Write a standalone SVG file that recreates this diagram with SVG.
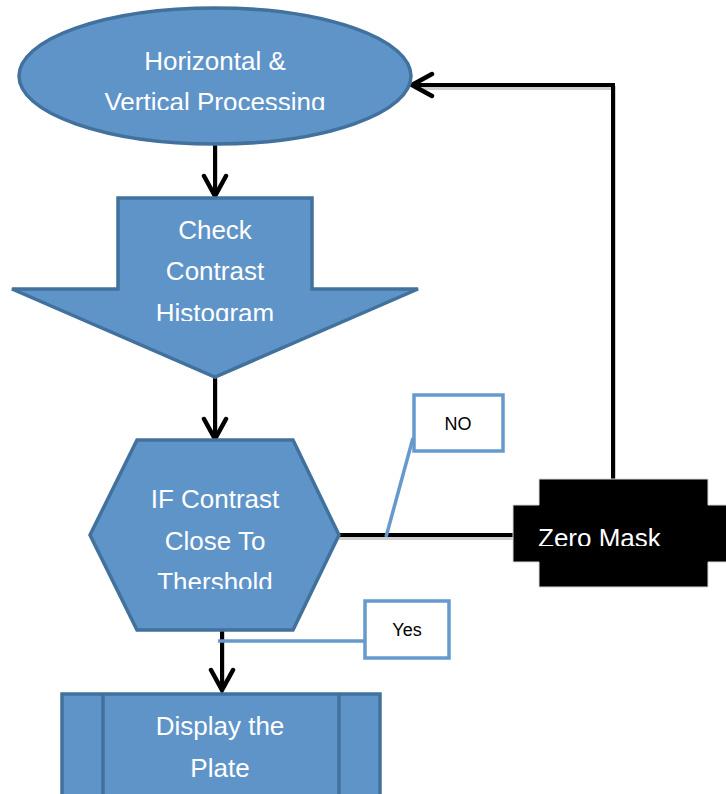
<svg xmlns="http://www.w3.org/2000/svg" width="726" height="794" viewBox="0 0 726 794">
<style>
.shape{fill:#5f94c9;stroke:#41719c;stroke-width:3.5;stroke-linejoin:miter}
.lbl{font-family:"Liberation Sans",Arial,sans-serif;font-size:26px;fill:#ffffff;text-anchor:middle}
.call{font-family:"Liberation Sans",Arial,sans-serif;font-size:18px;fill:#000000;text-anchor:middle}
.conn{fill:none;stroke:#000000;stroke-width:4}
.shadow{fill:none;stroke:#cfcfcf;stroke-width:4}
.lead{fill:none;stroke:#6699cc;stroke-width:3.5}
.cbox{fill:#ffffff;stroke:#6699cc;stroke-width:3.5}
</style>
<defs>
<marker id="ah" viewBox="0 0 26 28" refX="23" refY="14" markerWidth="26" markerHeight="28" markerUnits="userSpaceOnUse" orient="auto">
<path d="M3,3 L23,14 L3,25" fill="none" stroke="#000" stroke-width="4.5" stroke-linecap="round" stroke-linejoin="miter"/>
</marker>
<clipPath id="c1"><rect x="0" y="0" width="726" height="110"/></clipPath>
<clipPath id="c2"><rect x="0" y="190" width="726" height="131"/></clipPath>
<clipPath id="c3"><rect x="0" y="440" width="726" height="149"/></clipPath>
<clipPath id="c4"><rect x="0" y="470" width="726" height="76"/></clipPath>
</defs>
<rect width="726" height="794" fill="#ffffff"/>

<g id="connectors">
<path class="shadow" d="M216,146 L216,194"/>
<path class="conn" d="M215,144 L215,196" marker-end="url(#ah)"/>
<path class="shadow" d="M216,379 L216,437"/>
<path class="conn" d="M215,377 L215,439" marker-end="url(#ah)"/>
<path class="shadow" d="M339,538 L513,538"/>
<path class="conn" d="M339,535 L513,535"/>
<path class="shadow" d="M614,502 L614,88 L415,88"/>
<path class="conn" d="M613,502 L613,85 L412,85" marker-end="url(#ah)"/>
<rect x="611" y="497" width="4" height="5" fill="#555"/>
<path class="shadow" d="M223,623 L223,687"/>
<path class="conn" d="M222,621 L222,690" marker-end="url(#ah)"/>
</g>

<g id="n-processing">
<ellipse class="shape" cx="215" cy="76" rx="196" ry="68"/>
<g clip-path="url(#c1)">
<text class="lbl" x="215" y="70">Horizontal &amp;</text>
<text class="lbl" x="215" y="111">Vertical Processing</text>
</g>
</g>

<g id="n-check">
<polygon class="shape" points="118,198 312,198 312,289 418,289 215,377 12,289 118,289"/>
<g clip-path="url(#c2)">
<text class="lbl" x="215" y="239">Check</text>
<text class="lbl" x="215" y="280">Contrast</text>
<text class="lbl" x="215" y="322">Histogram</text>
</g>
</g>

<g id="n-decision">
<polygon class="shape" points="137,440 293,440 339,535 293,630 137,630 90,535"/>
<g clip-path="url(#c3)">
<text class="lbl" x="215" y="508">IF Contrast</text>
<text class="lbl" x="215" y="550">Close To</text>
<text class="lbl" x="215" y="591">Thershold</text>
</g>
</g>

<g id="n-zeromask">
<polygon points="539,479 708,479 708,505 728,505 728,562 708,562 708,587 539,587 539,562 513,562 513,505 539,505" fill="#000000" stroke="#d8d8d8" stroke-width="1"/>
<g clip-path="url(#c4)">
<text class="lbl" x="538" y="547" style="text-anchor:start">Zero Mask</text>
</g>
</g>

<g id="n-no">
<path class="lead" d="M413,438 L386,537"/>
<rect class="cbox" x="414" y="395" width="89" height="56"/>
<text class="call" x="458" y="430">NO</text>
</g>

<g id="n-yes">
<path class="lead" d="M218,641 L365,641"/>
<rect class="cbox" x="365" y="601" width="84" height="57"/>
<text class="call" x="407" y="636">Yes</text>
</g>

<g id="n-display">
<rect class="shape" x="62" y="694" width="318" height="110"/>
<line x1="103" y1="694" x2="103" y2="800" stroke="#41719c" stroke-width="3.5"/>
<line x1="339" y1="694" x2="339" y2="800" stroke="#41719c" stroke-width="3.5"/>
<text class="lbl" x="220" y="735">Display the</text>
<text class="lbl" x="220" y="777">Plate</text>
</g>
</svg>
